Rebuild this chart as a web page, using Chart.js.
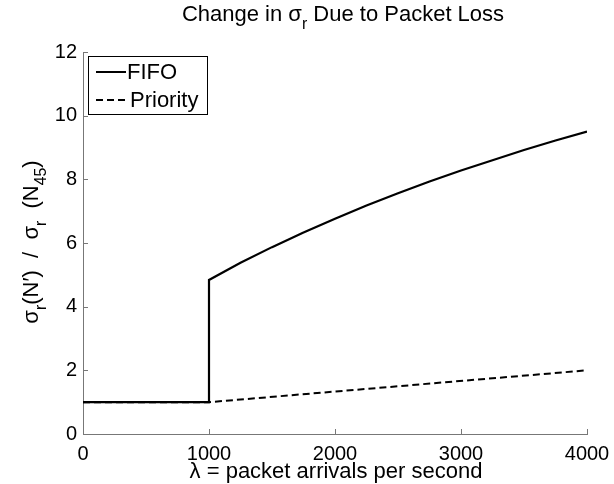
<!DOCTYPE html>
<html>
<head>
<meta charset="utf-8">
<script src="https://cdn.jsdelivr.net/npm/chart.js@4.4.0/dist/chart.umd.min.js"></script>
<style>
  html, body { margin: 0; padding: 0; background: #fff; }
  #wrap { width: 614px; height: 484px; }
</style>
</head>
<body>
<div id="wrap"><canvas id="myChart" width="614" height="484"></canvas></div>
<script>
// data
var fifoX = [0, 1000, 1000, 1250, 1500, 1750, 2000, 2250, 2500, 2750, 3000, 3250, 3500, 3750, 4000];
var fifoY = [1, 1, 4.84, 5.38, 5.87, 6.33, 6.76, 7.18, 7.56, 7.93, 8.28, 8.6, 8.92, 9.22, 9.5];
var prioX = [0, 1000, 4000];
var prioY = [1, 1, 2];
var xTicks = [0, 1000, 2000, 3000, 4000];
var yTicks = [0, 2, 4, 6, 8, 10, 12];

var FONT = '"Liberation Sans", Arial, Helvetica, sans-serif';

function pts(xs, ys) {
  return xs.map(function(x, i) { return { x: x, y: ys[i] }; });
}

// text with subscripts, parts = [[text, isSub], ...]
function richWidth(ctx, parts, size) {
  var w = 0;
  parts.forEach(function(p) {
    ctx.font = (p[1] ? size * 0.72 : size) + 'px ' + FONT;
    w += ctx.measureText(p[0]).width;
  });
  return w;
}
function drawRich(ctx, parts, cx, cy, size) {
  var x = cx - richWidth(ctx, parts, size) / 2;
  ctx.textBaseline = 'middle';
  ctx.textAlign = 'left';
  parts.forEach(function(p) {
    ctx.font = (p[1] ? size * 0.72 : size) + 'px ' + FONT;
    ctx.fillText(p[0], x, p[1] ? cy + size * 0.45 : cy);
    x += ctx.measureText(p[0]).width;
  });
}

var extras = {
  id: 'extras',
  afterDraw: function(chart) {
    var ctx = chart.ctx;
    var xs = chart.scales.x, ys = chart.scales.y;
    var a = chart.chartArea;
    ctx.save();
    // inward tick marks, matlab style
    ctx.strokeStyle = '#777';
    ctx.lineWidth = 1;
    ctx.beginPath();
    xTicks.forEach(function(v) {
      var px = Math.round(xs.getPixelForValue(v)) + 0.5;
      ctx.moveTo(px, a.bottom);
      ctx.lineTo(px, a.bottom - 5);
    });
    yTicks.forEach(function(v) {
      var py = Math.round(ys.getPixelForValue(v)) + 0.5;
      ctx.moveTo(a.left, py);
      ctx.lineTo(a.left + 5, py);
    });
    ctx.stroke();

    ctx.fillStyle = '#000';
    // title
    drawRich(ctx, [['Change in σ', false], ['r', true], [' Due to Packet Loss', false]], 343, 15, 22);
    // x label
    drawRich(ctx, [['λ = packet arrivals per second', false]], 336, 472, 22);
    // y label
    ctx.save();
    ctx.translate(32, 242);
    ctx.rotate(-Math.PI / 2);
    drawRich(ctx, [['σ', false], ['r', true], ['(N′)  /  σ', false], ['r', true], ['  (N', false], ['45', true], [')', false]], 0, 0, 22);
    ctx.restore();

    // legend box
    var lx = 88, ly = 56, lw = 119, lh = 58;
    ctx.fillStyle = '#fff';
    ctx.fillRect(lx, ly, lw, lh);
    ctx.strokeStyle = '#000';
    ctx.lineWidth = 1;
    ctx.strokeRect(lx + 0.5, ly + 0.5, lw, lh);
    ctx.lineWidth = 2;
    ctx.beginPath();
    ctx.moveTo(lx + 8, ly + 16);
    ctx.lineTo(lx + 38, ly + 16);
    ctx.stroke();
    ctx.setLineDash([7, 4]);
    ctx.beginPath();
    ctx.moveTo(lx + 8, ly + 44);
    ctx.lineTo(lx + 38, ly + 44);
    ctx.stroke();
    ctx.setLineDash([]);
    ctx.fillStyle = '#000';
    ctx.font = '22px ' + FONT;
    ctx.textAlign = 'left';
    ctx.textBaseline = 'middle';
    ctx.fillText('FIFO', lx + 39, ly + 17);
    ctx.fillText('Priority', lx + 42, ly + 45);
    ctx.restore();
  }
};

var ctx = document.getElementById('myChart').getContext('2d');
var myChart = new Chart(ctx, {
  type: 'line',
  data: {
    datasets: [{
      label: 'Priority',
      data: pts(prioX, prioY),
      borderColor: '#000',
      borderWidth: 2,
      borderDash: [7, 4],
      pointRadius: 0,
      fill: false,
      tension: 0
    }, {
      label: 'FIFO',
      data: pts(fifoX, fifoY),
      borderColor: '#000',
      borderWidth: 2.2,
      pointRadius: 0,
      fill: false,
      tension: 0
    }]
  },
  options: {
    responsive: false,
    animation: false,
    layout: { padding: { left: 0, right: 27, top: 52, bottom: 0 } },
    plugins: {
      legend: { display: false },
      title: { display: false },
      tooltip: { enabled: false }
    },
    scales: {
      x: {
        type: 'linear',
        min: 0, max: 4000,
        afterFit: function(s) { s.height = 50; },
        afterBuildTicks: function(s) { s.ticks = xTicks.map(function(v) { return { value: v }; }); },
        grid: { display: false },
        border: { display: true, color: '#777', width: 1 },
        ticks: {
          color: '#000', font: { family: FONT, size: 20 }, padding: 0, maxRotation: 0,
          callback: function(v) { return String(v); }
        }
      },
      y: {
        min: 0, max: 12,
        afterFit: function(s) { s.width = 83; },
        afterBuildTicks: function(s) { s.ticks = yTicks.map(function(v) { return { value: v }; }); },
        grid: { display: false, drawTicks: false },
        border: { display: true, color: '#777', width: 1 },
        ticks: { color: '#000', font: { family: FONT, size: 20 }, padding: 6 }
      }
    }
  },
  plugins: [extras]
});
</script>
</body>
</html>
